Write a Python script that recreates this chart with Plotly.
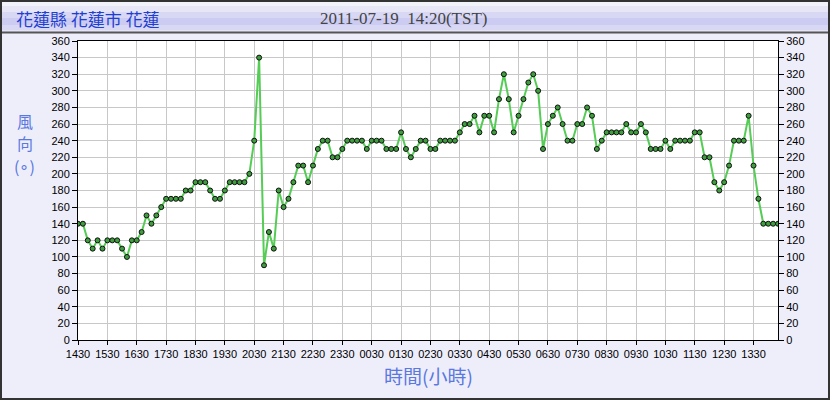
import plotly.graph_objects as go
import pandas as pd

# wind direction, 10 min steps from 14:30 (2011-07-18) to 14:20 (2011-07-19)
start_time = "2011-07-18 14:30"
n_points = 144
wind_dir = [
    140, 140, 120, 110, 120, 110,
    120, 120, 120, 110, 100, 120,
    120, 130, 150, 140, 150, 160,
    170, 170, 170, 170, 180, 180,
    190, 190, 190, 180, 170, 170,
    180, 190, 190, 190, 190, 200,
    240, 340, 90, 130, 110, 180,
    160, 170, 190, 210, 210, 190,
    210, 230, 240, 240, 220, 220,
    230, 240, 240, 240, 240, 230,
    240, 240, 240, 230, 230, 230,
    250, 230, 220, 230, 240, 240,
    230, 230, 240, 240, 240, 240,
    250, 260, 260, 270, 250, 270,
    270, 250, 290, 320, 290, 250,
    270, 290, 310, 320, 300, 230,
    260, 270, 280, 260, 240, 240,
    260, 260, 280, 270, 230, 240,
    250, 250, 250, 250, 260, 250,
    250, 260, 250, 230, 230, 230,
    240, 230, 240, 240, 240, 240,
    250, 250, 220, 220, 190, 180,
    190, 210, 240, 240, 240, 270,
    210, 170, 140, 140, 140, 140,
]
y_ticks = list(range(0, 361, 20))

station = "花蓮縣 花蓮市 花蓮"
stamp = "2011-07-19\u00a0\u00a014:20(TST)"
x_title = "時間(小時)"
y_title_parts = ["風", "向", "(∘)"]
y_title_pos = [121, 143, 166]   # pixel rows of the stacked y title

times = pd.date_range(start_time, periods=n_points, freq="10min")

W, H = 830, 400
L, R, T, B = 78, 778, 41, 340   # plot area in pixels


def px(x):
    return (x - L) / (R - L)


def py(y):
    return (B - y) / (B - T)


fig = go.Figure()
fig.add_trace(go.Scatter(
    x=times, y=wind_dir, mode="lines+markers",
    line=dict(color="#55CC55", width=2),
    marker=dict(color="#3E9E3E", size=5, line=dict(color="#111111", width=1)),
    hoverinfo="x+y", showlegend=False,
))
# same data on the right axis so its ticks get drawn
fig.add_trace(go.Scatter(
    x=times, y=wind_dir, yaxis="y2", mode="lines",
    line=dict(color="rgba(0,0,0,0)", width=0),
    hoverinfo="skip", showlegend=False,
))

tick_font = dict(family="Liberation Sans, Arial", size=11, color="#000000")

fig.update_layout(
    width=W, height=H,
    margin=dict(l=L, r=W - R, t=T, b=H - B, pad=0),
    paper_bgcolor="#EEEEFB",
    plot_bgcolor="#FFFFFF",
    xaxis=dict(
        type="date",
        range=[times[0], times[-1]],
        tick0=times[0], dtick=3600000, tickformat="%H%M", tickangle=0,
        showgrid=True, gridcolor="#C8C8C8", gridwidth=1,
        showline=True, linecolor="#000000", linewidth=1, mirror=True,
        ticks="outside", ticklen=4, tickcolor="#000000",
        tickfont=tick_font, zeroline=False,
    ),
    yaxis=dict(
        range=[0, 360], tickvals=y_ticks,
        showgrid=True, gridcolor="#C8C8C8", gridwidth=1,
        showline=True, linecolor="#000000", linewidth=1,
        ticks="outside", ticklen=5, tickcolor="#000000",
        tickfont=tick_font, zeroline=False,
    ),
    yaxis2=dict(
        range=[0, 360], tickvals=y_ticks, overlaying="y", side="right",
        showgrid=False,
        showline=True, linecolor="#000000", linewidth=1,
        ticks="outside", ticklen=5, tickcolor="#000000",
        tickfont=tick_font, zeroline=False,
    ),
)

# header band (stacked strips to fake the gradient)
bands = [(0, 6, "#F2F2FA"), (6, 12, "#E6E6F6"), (12, 18, "#D8D8F4"),
         (18, 25, "#CCCCF2"), (25, 30, "#D8D8F4"), (30, 32, "#E4E4F6")]
for y0, y1, c in bands:
    fig.add_shape(type="rect", xref="paper", yref="paper", layer="below",
                  x0=px(0), x1=px(W), y0=py(y1), y1=py(y0),
                  fillcolor=c, line=dict(width=0))
fig.add_shape(type="line", xref="paper", yref="paper",
              x0=px(0), x1=px(W), y0=py(32.5), y1=py(32.5),
              line=dict(color="#555555", width=2))
# outer frame
fig.add_shape(type="rect", xref="paper", yref="paper",
              x0=px(1), x1=px(W - 1), y0=py(H - 1), y1=py(1),
              line=dict(color="#333333", width=2))

fig.add_annotation(text=station, xref="paper", yref="paper",
                   x=px(14), y=py(18), xanchor="left", yanchor="middle",
                   showarrow=False,
                   font=dict(family="Noto Sans CJK TC", size=17, color="#1F3FD0"))
fig.add_annotation(text=stamp, xref="paper", yref="paper",
                   x=px(318), y=py(18), xanchor="left", yanchor="middle",
                   showarrow=False,
                   font=dict(family="Liberation Serif", size=17, color="#444444"))
for part, ypos in zip(y_title_parts, y_title_pos):
    fig.add_annotation(text=part, xref="paper", yref="paper",
                       x=px(25), y=py(ypos), xanchor="center", yanchor="middle",
                       showarrow=False, borderpad=0,
                       font=dict(family="Noto Sans CJK TC", size=16, color="#5A78E0"))
fig.add_annotation(text=x_title, xref="paper", yref="paper",
                   x=px(428), y=py(375), xanchor="center", yanchor="middle",
                   showarrow=False,
                   font=dict(family="Noto Sans CJK TC", size=19, color="#5A78E0"))

# drop the page's default 8px body margin so the figure sits at 0,0
fig.write_html("out.html", config={"displayModeBar": False},
               post_script="document.body.style.margin='0';")
